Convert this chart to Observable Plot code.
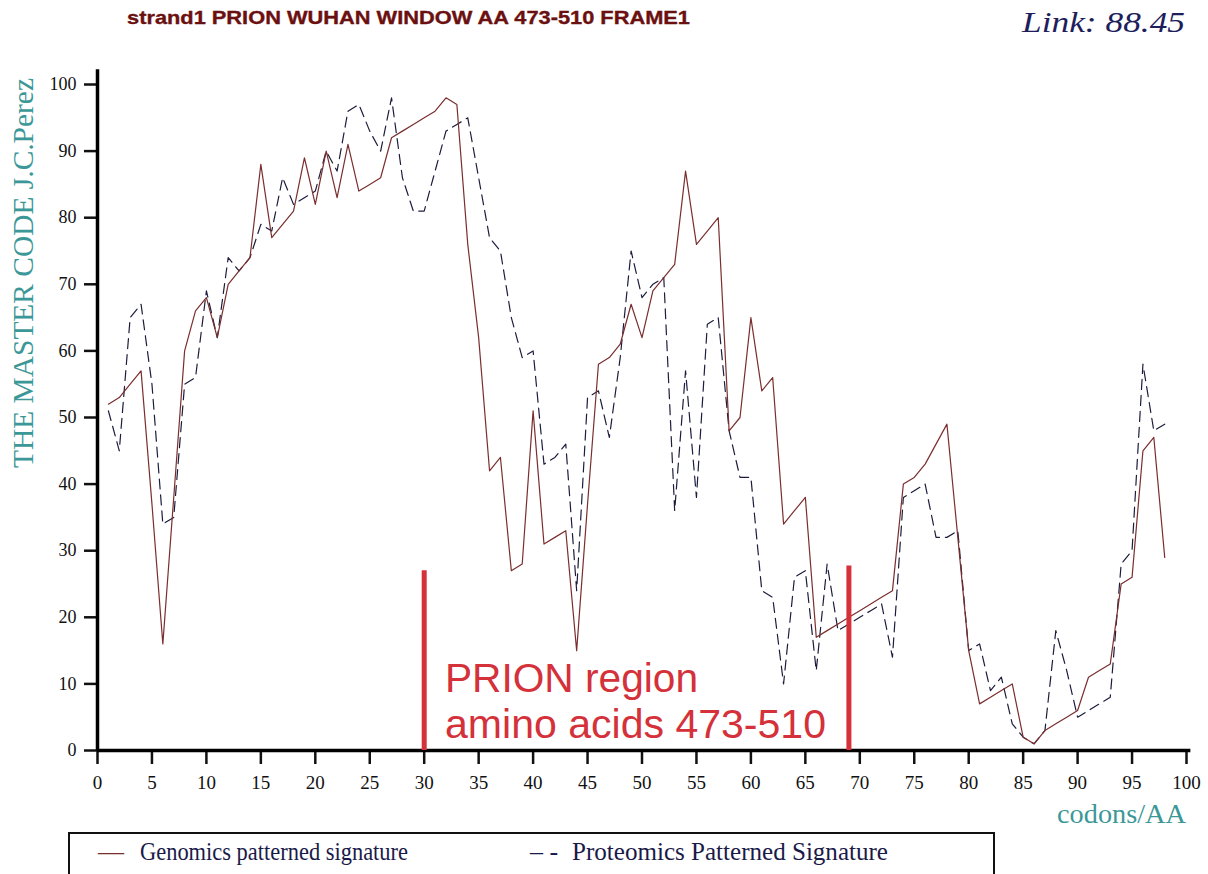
<!DOCTYPE html>
<html>
<head>
<meta charset="utf-8">
<script src="https://cdn.jsdelivr.net/npm/d3@7"></script>
<script src="https://cdn.jsdelivr.net/npm/@observablehq/plot@0.6"></script>
<style>
  html, body { margin: 0; padding: 0; background: #fff; overflow: hidden; }
  #wrap { position: relative; width: 1208px; height: 874px; }
  .abs { position: absolute; white-space: nowrap; line-height: 1; transform-origin: left top; }
  #title { left: 127px; top: 8px; font-family: "Liberation Sans", Arial, sans-serif; font-weight: bold; font-size: 19px; color: #6b1010; -webkit-text-stroke: 0.35px #6b1010; }
  #link { left: 1022px; top: 7px; font-family: "Liberation Serif", "Times New Roman", serif; font-style: italic; font-size: 30px; color: #1e1e5c; }
  #ylab { left: 22.5px; top: 272.5px; transform-origin: center center; font-family: "Liberation Serif", serif; font-size: 30px; color: #3c9898; }
  #xlab { left: 1057px; top: 801px; font-family: "Liberation Serif", serif; font-size: 27px; color: #3c9898; }
  .prion { left: 445px; font-family: "Liberation Sans", Arial, sans-serif; font-size: 40px; color: #d4313a; }
  #legend { left: 68px; top: 832px; width: 927px; height: 60px; border: 2px solid #111; box-sizing: border-box; }
  .leg { top: 839px; font-family: "Liberation Serif", serif; font-size: 26px; color: #1a1a48; }
  #chart { position: absolute; left: 0; top: 60px; }
  svg text { font-family: "Liberation Serif", serif !important; font-size: 18px !important; }
  svg g[aria-label="x-axis tick label"] text { font-size: 19px !important; }
</style>
</head>
<body>
<div id="wrap">
  <div id="chart"></div>
  <div class="abs" id="title"></div>
  <div class="abs" id="link"></div>
  <div class="abs" id="ylab"></div>
  <div class="abs" id="xlab"></div>
  <div class="abs prion" id="prion1" style="top:658px"></div>
  <div class="abs prion" id="prion2" style="top:704px"></div>
  <div class="abs" id="legend"></div>
  <div class="abs leg" id="legsym1" style="left:98px; color:#7a2e2e">—</div>
  <div class="abs leg" id="leg1" style="left:140px"></div>
  <div class="abs leg" id="legsym2" style="left:530px">– -</div>
  <div class="abs leg" id="leg2" style="left:572px"></div>
</div>
<script>
// ---- data ----
const titleText = "strand1 PRION WUHAN WINDOW AA 473-510 FRAME1";
const linkText = "Link: 88.45";
const yLabel = "THE MASTER CODE J.C.Perez";
const xLabel = "codons/AA";
const seriesNames = ["Genomics patterned signature", "Proteomics Patterned Signature"];
const prionLabel = ["PRION region", "amino acids 473-510"];

const codons = d3.range(1, 99);
const genomics = [52,53,55,57,37,16,38,60,66,68,
  62,70,72,74,88,77,79,81,89,82,
  90,83,91,84,85,86,92,93,94,95,
  96,98,97,76,62,42,44,27,28,51,
  31,32,33,15,37,58,59,61,67,62,
  69,71,73,87,76,78,80,48,50,65,
  54,56,34,36,38,17,18,19,20,21,
  22,23,24,40,41,43,46,49,32,15,
  7,8,9,10,2,1,3,4,5,6,
  11,12,13,25,26,45,47,29];
const proteomics = [51,45,65,67,55,34,35,55,56,69,
  62,74,72,74,79,78,86,82,83,84,
  90,87,96,97,93,90,98,86,81,81,
  87,93,94,95,86,77,75,65,59,60,
  43,44,46,24,53,54,47,59,75,68,
  70,71,36,57,38,64,65,48,41,41,
  24,23,10,26,27,12,28,18,19,20,
  21,22,14,38,39,40,32,32,33,15,
  16,9,11,4,2,1,3,18,12,5,
  6,7,8,28,30,58,48,49];
const prionBounds = [30, 69];
const prionMarkerTop = [27, 27.7];
const xTicks = d3.range(0, 101, 5);
const yTicks = d3.range(0, 101, 10);

// ---- text ----
const setText = (id, s) => { document.getElementById(id).textContent = s; };
setText("title", titleText);
setText("link", linkText);
setText("ylab", yLabel);
setText("xlab", xLabel);
setText("prion1", prionLabel[0]);
setText("prion2", prionLabel[1]);
setText("leg1", seriesNames[0]);
setText("leg2", seriesNames[1]);

const gData = codons.map((c, i) => ({x: c, y: genomics[i]}));
const pData = codons.map((c, i) => ({x: c, y: proteomics[i]}));
const bounds = prionBounds.map((b, i) => ({x: b, top: prionMarkerTop[i]}));

const chart = Plot.plot({
  width: 1208,
  height: 750,
  marginLeft: 97,
  marginRight: 22,
  marginTop: 24,
  marginBottom: 60,
  x: {domain: [0, 100]},
  y: {domain: [0, 100]},
  style: {fontFamily: "Liberation Serif", fontSize: "18px", color: "#111", background: "transparent"},
  marks: [
    Plot.axisX({ticks: xTicks, tickSize: 14, tickPadding: 11, strokeWidth: 2.5, label: null, fontSize: 19, fontFamily: "Liberation Serif"}),
    Plot.axisY({ticks: yTicks, tickSize: 13, tickPadding: 8, strokeWidth: 2.5, label: null, fontSize: 18, fontFamily: "Liberation Serif"}),
    Plot.ruleY([0], {x1: 0, x2: 100.4, stroke: "#000", strokeWidth: 3.5}),
    Plot.ruleX([0], {y1: 0, y2: 102.2, stroke: "#000", strokeWidth: 3.5}),
    Plot.line(pData, {x: "x", y: "y", stroke: "#1c1c3c", strokeWidth: 1.2, strokeDasharray: "10,6"}),
    Plot.line(gData, {x: "x", y: "y", stroke: "#7a2e2e", strokeWidth: 1.2}),
    Plot.ruleX(bounds, {x: "x", y1: 0, y2: "top", stroke: "#d4313a", strokeWidth: 5})
  ]
});
document.getElementById("chart").appendChild(chart);

// fit text widths to the reference spans
function fitWidth(id, target) {
  const el = document.getElementById(id);
  const w = el.getBoundingClientRect().width;
  el.style.transform = `scaleX(${target / w})`;
}
fitWidth("title", 563);
fitWidth("link", 163);
fitWidth("xlab", 129);
fitWidth("prion1", 253);
fitWidth("prion2", 381);
fitWidth("leg1", 268);
fitWidth("leg2", 316);
const yl = document.getElementById("ylab");
const ylw = yl.getBoundingClientRect().width;
yl.style.transform = `translate(-50%, -50%) rotate(-90deg) scaleX(${390 / ylw})`;
</script>
</body>
</html>
